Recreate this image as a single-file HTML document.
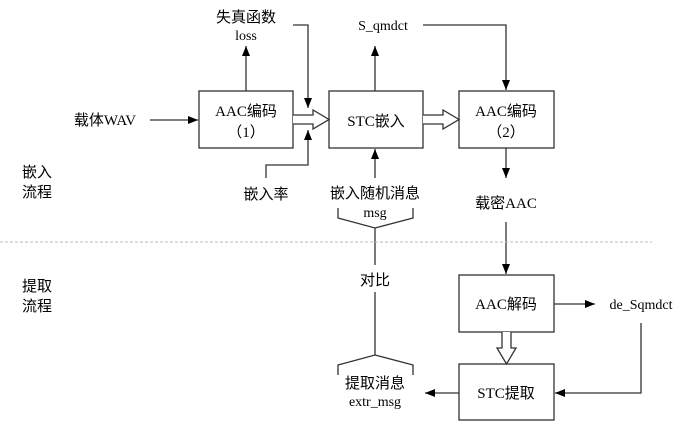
<!DOCTYPE html>
<html><head><meta charset="utf-8"><style>
html,body{margin:0;padding:0;background:#fff;}
svg{display:block;}
text{font-family:"Liberation Serif","Noto Serif CJK SC","Noto Sans CJK SC",serif;fill:#000;}
.cj{font-family:"Liberation Serif","Noto Sans CJK SC",sans-serif;}
</style></head><body>
<svg width="690" height="422" viewBox="0 0 690 422" xmlns="http://www.w3.org/2000/svg">
<defs>
<marker id="a" markerWidth="10" markerHeight="8" refX="10" refY="4" orient="auto" markerUnits="userSpaceOnUse">
<path d="M0,0 L10,4 L0,8 Z" fill="#000"/></marker>
</defs>
<g fill="#fff" stroke="#333" stroke-width="1.3">
<rect x="199" y="91" width="94" height="57"/>
<rect x="329" y="91" width="94" height="57"/>
<rect x="459" y="91" width="95" height="57"/>
<rect x="459" y="275" width="95" height="57"/>
<rect x="459" y="364" width="95" height="56"/>
</g>
<g stroke="#333" stroke-width="1.3" fill="none">
<line x1="150" y1="120" x2="198" y2="120" marker-end="url(#a)"/>
<line x1="246" y1="91" x2="246" y2="46" marker-end="url(#a)"/>
<polyline points="293,25 308,25 308,108" marker-end="url(#a)"/>
<polyline points="266,178 266,165 308,165 308,130" marker-end="url(#a)"/>
<line x1="375" y1="91" x2="375" y2="46" marker-end="url(#a)"/>
<polyline points="423,25 506,25 506,90" marker-end="url(#a)"/>
<line x1="375" y1="178" x2="375" y2="149" marker-end="url(#a)"/>
<line x1="506" y1="148" x2="506" y2="178" marker-end="url(#a)"/>
<line x1="506" y1="222" x2="506" y2="274" marker-end="url(#a)"/>
<line x1="554" y1="304" x2="595" y2="304" marker-end="url(#a)"/>
<polyline points="641,323 641,393 555,393" marker-end="url(#a)"/>
<line x1="459" y1="393" x2="425" y2="393" marker-end="url(#a)"/>
<polyline points="338,208 338,218 375,228 413,218 413,208"/>
<line x1="375" y1="228" x2="375" y2="265"/>
<line x1="375" y1="292" x2="375" y2="355"/>
<polyline points="338,375 338,365 375,355 413,365 413,375"/>
<path d="M293,115 L313,115 L313,110 L329,119.5 L313,129 L313,124 L293,124" fill="#fff"/>
<path d="M423,115 L443,115 L443,110 L459,119.5 L443,129 L443,124 L423,124" fill="#fff"/>
<path d="M502,332 L502,348 L497,348 L506.5,364 L516,348 L511,348 L511,332" fill="#fff"/>
</g>
<line x1="0" y1="242" x2="652" y2="242" stroke="#bbb" stroke-width="1" stroke-dasharray="3,2"/>
<g font-size="15" text-anchor="middle">
<text x="246" y="116" class="cj">AAC编码</text>
<text x="246" y="137" class="cj">（1）</text>
<text x="376" y="126" class="cj">STC嵌入</text>
<text x="506" y="116" class="cj">AAC编码</text>
<text x="506" y="137" class="cj">（2）</text>
<text x="506" y="309" class="cj">AAC解码</text>
<text x="506" y="398" class="cj">STC提取</text>
<text x="105" y="125" class="cj">载体WAV</text>
<text x="246" y="22" class="cj">失真函数</text>
<text x="246" y="40" font-size="14">loss</text>
<text x="383" y="30" font-size="14">S_qmdct</text>
<text x="266" y="199" class="cj">嵌入率</text>
<text x="375" y="198" class="cj">嵌入随机消息</text>
<text x="375" y="217" font-size="14">msg</text>
<text x="506" y="208" class="cj">载密AAC</text>
<text x="375" y="285" class="cj">对比</text>
<text x="375" y="388" class="cj">提取消息</text>
<text x="375" y="406" font-size="14">extr_msg</text>
<text x="641" y="309" font-size="14">de_Sqmdct</text>
</g>
<g font-size="15" class="cj">
<text x="22" y="177" class="cj">嵌入</text>
<text x="22" y="197" class="cj">流程</text>
<text x="22" y="291" class="cj">提取</text>
<text x="22" y="311" class="cj">流程</text>
</g>
</svg>
</body></html>
